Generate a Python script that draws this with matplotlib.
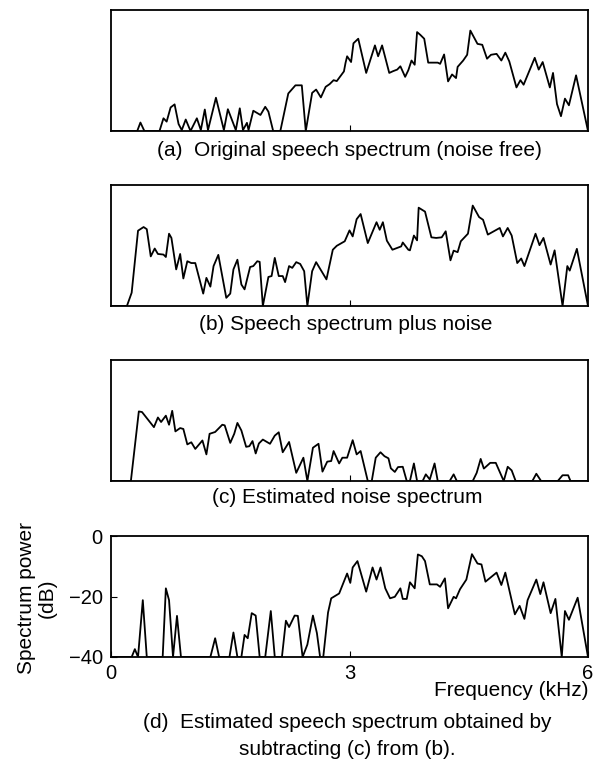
import matplotlib
matplotlib.use('Agg')
import matplotlib.pyplot as plt

plt.rcParams['font.family'] = ['Liberation Sans', 'DejaVu Sans']

# (a) original speech spectrum, kHz / dB
freq_a = [0.0, 0.33, 0.37, 0.42, 0.61, 0.66, 0.70, 0.75, 0.80, 0.85, 0.89, 0.94, 1.00, 1.08, 1.13,
          1.18, 1.22, 1.32, 1.42, 1.47, 1.57, 1.62, 1.66, 1.71, 1.73, 1.79, 1.88, 1.94, 1.98, 2.04,
          2.13, 2.23, 2.32, 2.40, 2.45, 2.53, 2.58, 2.64, 2.70, 2.75, 2.80, 2.84, 2.93, 2.95, 2.97,
          3.02, 3.05, 3.11, 3.21, 3.32, 3.36, 3.41, 3.50, 3.55, 3.60, 3.64, 3.70, 3.74, 3.78, 3.82,
          3.85, 3.89, 3.94, 3.99, 4.11, 4.14, 4.19, 4.24, 4.29, 4.34, 4.36, 4.43, 4.48, 4.52, 4.61,
          4.67, 4.73, 4.78, 4.85, 4.91, 4.96, 5.01, 5.10, 5.15, 5.19, 5.33, 5.38, 5.43, 5.52, 5.56,
          5.61, 5.66, 5.71, 5.76, 5.85, 6.00]
db_a = [-40, -40, -37.2, -40, -40, -35.8, -36.9, -32.2, -31.2, -37.7, -39.7, -36.2, -40, -35.8, -39.7,
        -32.9, -39.7, -29.0, -39.7, -32.8, -39.7, -32.5, -39.7, -37.3, -39.7, -33.3, -34.7, -32.0, -33.6, -40,
        -40, -27.6, -24.9, -24.9, -40, -27.4, -26.3, -28.9, -25.4, -24.5, -23.2, -23.5, -20.3, -17.5, -15.3,
        -17.2, -11.0, -9.5, -20.8, -11.7, -15.3, -11.7, -20.8, -20.2, -19.7, -18.6, -22.1, -19.9, -16.7, -18.1,
        -7.3, -8.2, -9.5, -17.4, -17.4, -17.8, -14.7, -23.6, -21.3, -22.5, -18.8, -16.7, -14.8, -6.8, -11.2,
        -11.5, -16.1, -14.8, -14.5, -16.7, -14.1, -17.0, -25.6, -23.2, -24.7, -15.8, -19.7, -17.2, -25.6, -20.8,
        -31.1, -35.1, -29.3, -31.5, -21.6, -40]

# (b) speech spectrum plus noise
freq_b = [0.0, 0.20, 0.26, 0.34, 0.41, 0.45, 0.50, 0.55, 0.59, 0.66, 0.69, 0.73, 0.76, 0.82, 0.87,
          0.91, 0.96, 1.01, 1.06, 1.16, 1.20, 1.25, 1.29, 1.35, 1.45, 1.50, 1.54, 1.59, 1.64, 1.68,
          1.75, 1.79, 1.84, 1.87, 1.91, 1.98, 2.02, 2.06, 2.11, 2.16, 2.19, 2.24, 2.28, 2.33, 2.38,
          2.43, 2.47, 2.53, 2.58, 2.66, 2.71, 2.79, 2.84, 2.94, 3.00, 3.04, 3.09, 3.14, 3.23, 3.34,
          3.38, 3.42, 3.47, 3.54, 3.60, 3.65, 3.67, 3.74, 3.76, 3.81, 3.85, 3.87, 3.95, 4.03, 4.09,
          4.16, 4.21, 4.27, 4.31, 4.36, 4.40, 4.49, 4.55, 4.63, 4.68, 4.74, 4.89, 4.93, 4.99, 5.04,
          5.11, 5.16, 5.20, 5.34, 5.39, 5.44, 5.53, 5.58, 5.68, 5.74, 5.77, 5.86, 6.00]
db_b = [-40, -40, -35.6, -15.1, -13.9, -14.6, -23.6, -21.0, -22.8, -23.0, -23.8, -16.1, -17.5, -27.9, -22.8,
        -30.9, -25.2, -25.8, -25.8, -35.9, -30.7, -33.6, -26.8, -23.1, -37.3, -35.9, -27.9, -24.7, -32.9, -34.5,
        -27.1, -26.8, -25.2, -25.4, -40, -30.4, -30.1, -24.1, -30.1, -30.1, -32.1, -26.8, -27.4, -25.5, -26.1,
        -28.5, -40, -28.5, -25.5, -29.0, -31.2, -21.4, -20.1, -18.6, -15.0, -17.0, -11.3, -9.6, -19.2, -12.3,
        -14.8, -12.3, -18.4, -21.4, -20.8, -20.3, -19.0, -21.4, -21.6, -16.7, -18.3, -7.5, -8.8, -17.3, -17.5,
        -17.3, -15.3, -24.9, -21.7, -22.2, -18.6, -16.1, -6.8, -10.6, -11.5, -16.4, -14.2, -17.0, -14.2, -16.7,
        -25.8, -24.3, -26.8, -16.1, -19.9, -17.5, -26.3, -21.6, -40, -26.8, -28.3, -21.1, -40]

# (c) estimated noise spectrum
freq_c = [0.0, 0.25, 0.35, 0.39, 0.54, 0.59, 0.63, 0.69, 0.73, 0.77, 0.81, 0.87, 0.91, 0.96, 1.01,
          1.06, 1.15, 1.20, 1.24, 1.31, 1.40, 1.43, 1.50, 1.55, 1.59, 1.64, 1.70, 1.74, 1.78, 1.82,
          1.86, 1.91, 2.00, 2.06, 2.11, 2.16, 2.24, 2.33, 2.42, 2.47, 2.54, 2.61, 2.66, 2.72, 2.77,
          2.80, 2.87, 2.91, 2.97, 3.04, 3.09, 3.14, 3.23, 3.28, 3.33, 3.39, 3.44, 3.49, 3.52, 3.57,
          3.61, 3.67, 3.72, 3.76, 3.81, 3.85, 3.92, 3.96, 4.01, 4.07, 4.11, 4.26, 4.31, 4.35, 4.55,
          4.60, 4.65, 4.69, 4.77, 4.84, 4.94, 4.99, 5.04, 5.09, 5.30, 5.35, 5.41, 5.62, 5.68, 5.75,
          5.78, 6.00]
db_c = [-40, -40, -17.0, -17.2, -22.2, -19.0, -20.5, -18.4, -21.4, -16.8, -23.6, -22.5, -22.8, -27.9, -27.2,
        -29.4, -26.6, -31.2, -24.4, -23.8, -21.4, -21.6, -27.4, -24.4, -20.8, -23.3, -28.7, -28.5, -26.8, -30.9,
        -27.6, -26.3, -27.7, -25.0, -23.9, -30.5, -27.1, -37.3, -32.3, -40, -29.0, -27.7, -36.9, -33.6, -33.4,
        -30.1, -34.2, -32.3, -32.3, -26.5, -31.2, -30.1, -40, -40, -32.3, -30.5, -31.8, -32.5, -35.8, -37.0,
        -35.4, -35.3, -40, -40, -34.2, -40, -40, -37.8, -39.5, -34.2, -40, -40, -37.8, -40, -40,
        -37.3, -32.7, -35.9, -34.0, -34.0, -40, -35.3, -36.5, -40, -40, -37.6, -40, -40, -38.1, -38.1,
        -40, -40]

# (d) estimated speech spectrum = (b) - (c)
freq_d = [0.0, 0.26, 0.30, 0.34, 0.40, 0.45, 0.65, 0.69, 0.73, 0.78, 0.83, 0.88, 1.25, 1.31, 1.36,
          1.49, 1.54, 1.59, 1.64, 1.68, 1.72, 1.77, 1.82, 1.87, 1.94, 2.01, 2.06, 2.15, 2.20, 2.24,
          2.31, 2.35, 2.41, 2.47, 2.54, 2.59, 2.63, 2.67, 2.73, 2.77, 2.87, 2.97, 3.01, 3.04, 3.10,
          3.21, 3.29, 3.34, 3.39, 3.45, 3.51, 3.57, 3.64, 3.67, 3.72, 3.76, 3.82, 3.86, 3.91, 3.95,
          4.01, 4.10, 4.14, 4.20, 4.24, 4.31, 4.34, 4.39, 4.47, 4.54, 4.61, 4.66, 4.71, 4.85, 4.91,
          4.96, 5.08, 5.14, 5.20, 5.24, 5.35, 5.40, 5.44, 5.53, 5.59, 5.67, 5.71, 5.76, 5.87, 6.00]
db_d = [-40, -40, -37.4, -40, -21.2, -40, -40, -17.3, -21.2, -40, -26.4, -40, -40, -33.8, -40,
        -40, -31.9, -40, -40, -32.7, -33.8, -25.5, -26.3, -40, -40, -24.8, -40, -40, -28.0, -30.1,
        -26.3, -26.4, -40, -35.9, -26.3, -32.1, -40, -40, -25.3, -20.6, -19.0, -12.4, -15.5, -10.4, -8.3,
        -18.4, -10.4, -14.4, -10.4, -17.3, -20.6, -20.1, -17.3, -20.8, -20.8, -15.3, -17.3, -6.1, -6.7, -8.3,
        -16.0, -16.0, -16.8, -14.0, -23.9, -20.1, -20.6, -17.6, -14.4, -6.0, -9.1, -9.4, -15.1, -12.1, -16.2,
        -12.1, -25.9, -23.1, -27.4, -21.2, -14.4, -19.2, -15.3, -25.5, -20.8, -40, -24.8, -27.7, -20.4, -40]

captions = ['(a)  Original speech spectrum (noise free)',
            '(b) Speech spectrum plus noise',
            '(c) Estimated noise spectrum',
            '(d)  Estimated speech spectrum obtained by\nsubtracting (c) from (b).']

W, H = 597, 770
fig = plt.figure(figsize=(W / 100, H / 100), dpi=100)

# panel boxes in pixels: top, bottom
boxes = [(10, 131), (185, 306), (360, 481), (536, 657)]
left, right = 111, 588
series = [(freq_a, db_a), (freq_b, db_b), (freq_c, db_c), (freq_d, db_d)]

axes = []
for (top, bot), (f, d) in zip(boxes, series):
    ax = fig.add_axes([left / W, 1 - bot / H, (right - left) / W, (bot - top) / H])
    ax.plot(f, d, color='black', lw=1.3)
    ax.set_xlim(0, 6)
    ax.set_ylim(-40, 0)
    for sp in ax.spines.values():
        sp.set_linewidth(1.3)
    ax.tick_params(direction='in', length=4, width=0.8, labelsize=14.5, colors='black')
    ax.set_xticks([3])
    ax.set_yticks([])
    ax.set_xticklabels([])
    axes.append(ax)

axd = axes[3]
axd.set_xticks([0, 3, 6])
axd.set_xticklabels(['0', '3', '6'])
axd.set_yticks([-40, -20, 0])
axd.set_yticklabels(['\u221240', '\u221220', '0'])
axd.tick_params(axis='x', pad=5)
axd.tick_params(axis='y', pad=6)

fs = 15
fig.text(349 / W, 1 - 150 / H, captions[0], ha='center', va='center', fontsize=fs)
fig.text(346 / W, 1 - 325 / H, captions[1], ha='center', va='center', fontsize=fs)
fig.text(347 / W, 1 - 497 / H, captions[2], ha='center', va='center', fontsize=fs)
fig.text(588 / W, 1 - 691 / H, 'Frequency (kHz)', ha='right', va='center', fontsize=fs)
fig.text(347 / W, 1 - 736 / H, captions[3], ha='center', va='center', fontsize=fs,
         linespacing=1.5)
fig.text(37 / W, 1 - 598 / H, 'Spectrum power\n(dB)', ha='center', va='center', fontsize=fs,
         rotation=90, multialignment='center', linespacing=1.15)

fig.savefig('out.png', dpi=100)
